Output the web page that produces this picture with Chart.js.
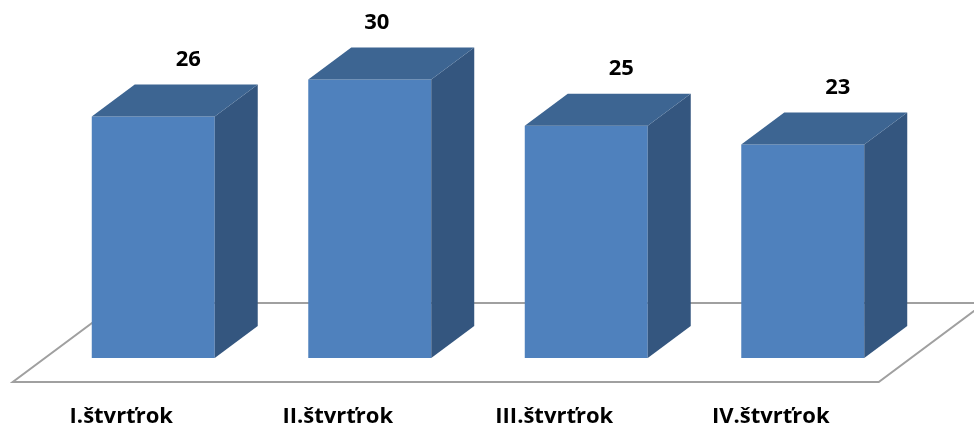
<!DOCTYPE html>
<html>
<head>
<meta charset="utf-8">
<script src="https://cdn.jsdelivr.net/npm/chart.js@4"></script>
<style>
  html, body { margin: 0; padding: 0; background: #fff; }
  #wrap { width: 974px; height: 428px; position: relative; }
</style>
</head>
<body>
<div id="wrap"><canvas id="chart"></canvas></div>
<script>
// ── Data ─────────────────────────────────────────────────────────────
const categories = ['I.štvrťrok', 'II.štvrťrok', 'III.štvrťrok', 'IV.štvrťrok']
const values = [26, 30, 25, 23]

// ── Look ─────────────────────────────────────────────────────────────
const FRONT = '#4f81bd'
const SIDE = '#34567f'
const TOP = '#3d6592'
const FLOOR_LINE = '#a0a0a0'
const DEPTH_X = 43, DEPTH_Y = -32       // bar depth (right + up)
const FONT = 'Open Sans'
const labelNudge = [0, -28, 0, 0]       // value label tweaks per bar

// ── 3D plugin: floor + side/top faces + value labels ────────────────
const box3d = {
  id: 'box3d',
  beforeDatasetsDraw(chart) {
    const { ctx, chartArea: a } = chart
    const r = DEPTH_X / -DEPTH_Y
    const fy = a.bottom + 24, by = a.bottom - 55
    const fl = a.left - 24 * r, fr = a.right - 24 * r
    const bl = a.left + 55 * r, br = a.right + 55 * r
    ctx.save()
    ctx.beginPath()
    ctx.moveTo(fl, fy); ctx.lineTo(fr, fy); ctx.lineTo(br, by); ctx.lineTo(bl, by)
    ctx.closePath()
    ctx.fillStyle = '#fff'; ctx.fill()
    ctx.strokeStyle = FLOOR_LINE; ctx.lineWidth = 2; ctx.stroke()
    ctx.restore()
  },
  afterDatasetsDraw(chart) {
    const { ctx } = chart
    const meta = chart.getDatasetMeta(0)
    ctx.save()
    meta.data.forEach((bar, i) => {
      const half = bar.width / 2
      const l = bar.x - half, rgt = bar.x + half, t = bar.y, b = bar.base
      // side face
      ctx.beginPath()
      ctx.moveTo(rgt, t); ctx.lineTo(rgt + DEPTH_X, t + DEPTH_Y)
      ctx.lineTo(rgt + DEPTH_X, b + DEPTH_Y); ctx.lineTo(rgt, b)
      ctx.closePath(); ctx.fillStyle = SIDE; ctx.fill()
      // top face
      ctx.beginPath()
      ctx.moveTo(l, t); ctx.lineTo(l + DEPTH_X, t + DEPTH_Y)
      ctx.lineTo(rgt + DEPTH_X, t + DEPTH_Y); ctx.lineTo(rgt, t)
      ctx.closePath(); ctx.fillStyle = TOP; ctx.fill()
      // value label
      ctx.fillStyle = '#000'
      ctx.font = `bold 22px "${FONT}"`
      ctx.textAlign = 'center'; ctx.textBaseline = 'middle'
      ctx.fillText(String(values[i]), bar.x + 35 + labelNudge[i], t - 57)
    })
    ctx.restore()
  }
}

new Chart(document.getElementById('chart'), {
  type: 'bar',
  data: {
    labels: categories,
    datasets: [{
      data: values,
      backgroundColor: FRONT,
      borderWidth: 0,
      categoryPercentage: 1,
      barPercentage: 0.568
    }]
  },
  options: {
    responsive: true,
    maintainAspectRatio: false,
    animation: false,
    layout: { padding: { left: 45, right: 63, top: 33, bottom: 0 } },
    plugins: { legend: { display: false }, tooltip: { enabled: false } },
    scales: {
      x: {
        grid: { display: false, drawTicks: false },
        border: { display: false },
        afterFit: s => { s.height = 70 },
        ticks: {
          color: '#000', padding: 46, labelOffset: -32,
          maxRotation: 0, autoSkip: false,
          font: { family: FONT, size: 22, weight: 'bold', lineHeight: 1.2 }
        }
      },
      y: { display: false, min: 0, max: 35 }
    }
  },
  plugins: [box3d]
})
</script>
</body>
</html>
